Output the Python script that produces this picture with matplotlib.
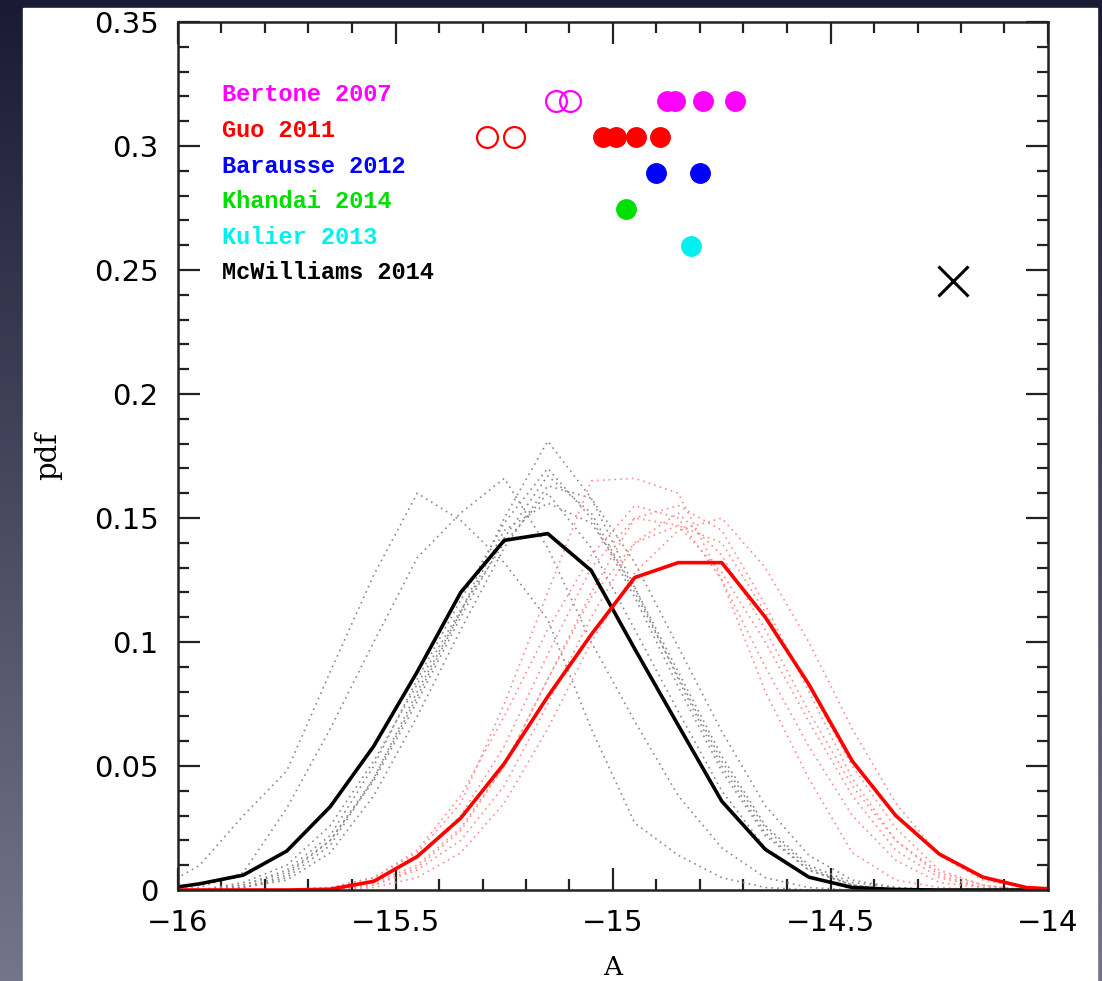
import numpy as np
import matplotlib.pyplot as plt
from matplotlib.patches import Rectangle
from matplotlib.colors import LinearSegmentedColormap
from matplotlib.ticker import MultipleLocator, FuncFormatter

# bin centres of the A histograms
A_bins = [-16.05, -15.95, -15.85, -15.75, -15.65, -15.55, -15.45, -15.35, -15.25, -15.15, -15.05,
          -14.95, -14.85, -14.75, -14.65, -14.55, -14.45, -14.35, -14.25, -14.15, -14.05, -13.95]

pdf_black = [0.0, 0.0025, 0.006, 0.0157, 0.0336, 0.058, 0.088, 0.120, 0.141, 0.1437, 0.1288,
             0.0972, 0.0664, 0.0358, 0.0164, 0.0052, 0.001, 0.0002, 0, 0, 0, 0]
pdf_red = [0, 0, 0, 0, 0.0003, 0.0035, 0.0135, 0.029, 0.051, 0.078, 0.103,
           0.126, 0.132, 0.132, 0.110, 0.083, 0.052, 0.030, 0.0145, 0.0052, 0.001, 0]

# individual runs (dotted)
gray_runs = [
    [0, 0.010, 0.030, 0.048, 0.088, 0.127, 0.160, 0.149, 0.132, 0.109, 0.065, 0.027, 0.014, 0.005, 0.001, 0, 0, 0, 0, 0, 0, 0],
    [0, 0.001, 0.007, 0.033, 0.065, 0.100, 0.134, 0.152, 0.166, 0.138, 0.100, 0.068, 0.038, 0.017, 0.005, 0.001, 0, 0, 0, 0, 0, 0],
    [0, 0, 0.001, 0.005, 0.018, 0.045, 0.080, 0.112, 0.150, 0.181, 0.158, 0.122, 0.085, 0.050, 0.023, 0.008, 0.002, 0, 0, 0, 0, 0],
    [0, 0, 0.002, 0.008, 0.022, 0.050, 0.085, 0.117, 0.148, 0.170, 0.150, 0.118, 0.082, 0.048, 0.022, 0.008, 0.002, 0, 0, 0, 0, 0],
    [0, 0, 0.001, 0.006, 0.020, 0.044, 0.076, 0.110, 0.142, 0.167, 0.152, 0.120, 0.086, 0.052, 0.025, 0.009, 0.002, 0, 0, 0, 0, 0],
    [0, 0, 0.003, 0.010, 0.026, 0.052, 0.083, 0.113, 0.140, 0.160, 0.138, 0.105, 0.072, 0.040, 0.017, 0.005, 0.001, 0, 0, 0, 0, 0],
    [0, 0, 0.002, 0.007, 0.020, 0.045, 0.078, 0.112, 0.145, 0.156, 0.148, 0.122, 0.088, 0.054, 0.026, 0.010, 0.003, 0.001, 0, 0, 0, 0],
    [0, 0, 0.001, 0.004, 0.015, 0.038, 0.070, 0.105, 0.138, 0.163, 0.158, 0.132, 0.098, 0.064, 0.034, 0.014, 0.004, 0.001, 0, 0, 0, 0],
]
red_runs = [
    [0, 0, 0, 0, 0.001, 0.005, 0.015, 0.035, 0.075, 0.120, 0.165, 0.166, 0.160, 0.125, 0.080, 0.045, 0.015, 0.004, 0.001, 0, 0, 0],
    [0, 0, 0, 0, 0, 0.003, 0.010, 0.025, 0.050, 0.085, 0.120, 0.150, 0.155, 0.145, 0.115, 0.080, 0.045, 0.020, 0.006, 0.001, 0, 0],
    [0, 0, 0, 0, 0.001, 0.004, 0.013, 0.030, 0.058, 0.095, 0.130, 0.150, 0.147, 0.128, 0.100, 0.068, 0.038, 0.016, 0.005, 0.001, 0, 0],
    [0, 0, 0, 0, 0, 0.002, 0.008, 0.020, 0.042, 0.075, 0.110, 0.140, 0.147, 0.140, 0.112, 0.082, 0.050, 0.025, 0.008, 0.002, 0, 0],
    [0, 0, 0, 0, 0, 0.001, 0.005, 0.015, 0.035, 0.065, 0.100, 0.128, 0.145, 0.150, 0.130, 0.100, 0.065, 0.035, 0.014, 0.004, 0.001, 0],
    [0, 0, 0, 0, 0, 0.002, 0.009, 0.024, 0.050, 0.085, 0.118, 0.140, 0.152, 0.135, 0.105, 0.072, 0.042, 0.020, 0.007, 0.002, 0, 0],
    [0, 0, 0, 0, 0.001, 0.005, 0.016, 0.038, 0.070, 0.105, 0.135, 0.155, 0.150, 0.125, 0.090, 0.058, 0.030, 0.012, 0.003, 0.001, 0, 0],
]

# model predictions shown as markers
labels = ["Bertone 2007", "Guo 2011", "Barausse 2012", "Khandai 2014", "Kulier 2013", "McWilliams 2014"]
colors = ["#ff00ff", "#ff0000", "#0000ff", "#00e000", "#00f0f0", "black"]
rows_y = [0.318, 0.3036, 0.289, 0.2744, 0.2598, 0.2457]
open_x = [[-15.13, -15.10], [-15.29, -15.228], [], [], [], []]
filled_x = [[-14.876, -14.857, -14.793, -14.72], [-15.023, -14.994, -14.946, -14.892],
            [-14.901, -14.801], [-14.970], [-14.821], []]
cross_x = [-14.218]

fig = plt.figure(figsize=(11.02, 9.81), dpi=100)

# dark slide background with white page
bg = fig.add_axes([0, 0, 1, 1], zorder=-10)
cmap = LinearSegmentedColormap.from_list("bg", ["#74748c", "#1a1a34"])
bg.imshow(np.linspace(0, 1, 256).reshape(-1, 1), extent=[0, 1, 0, 1], aspect="auto",
          cmap=cmap, origin="lower")
bg.add_patch(Rectangle((23 / 1102, 0), (1097 - 23) / 1102, (981 - 8) / 981, color="white"))
bg.set_xlim(0, 1)
bg.set_ylim(0, 1)
bg.axis("off")

ax = fig.add_axes([178 / 1102, 91 / 981, 870 / 1102, 868 / 981])
ax.set_facecolor("none")

for run in gray_runs:
    ax.plot(A_bins, run, color="#8a8a8a", lw=1.2, linestyle=(0, (1, 2.5)))
for run in red_runs:
    ax.plot(A_bins, run, color="#ff8c8c", lw=1.2, linestyle=(0, (1, 2.5)))

ax.plot(A_bins, pdf_black, color="black", lw=2.6)
ax.plot(A_bins, pdf_red, color="#ff0000", lw=2.6)

for i in range(len(labels)):
    if open_x[i]:
        ax.plot(open_x[i], [rows_y[i]] * len(open_x[i]), "o", ms=15, mfc="none",
                mec=colors[i], mew=1.6, ls="none")
    if filled_x[i]:
        ax.plot(filled_x[i], [rows_y[i]] * len(filled_x[i]), "o", ms=14, color=colors[i], ls="none")
    ax.text(0.0506, 0.916 - 0.041 * i, labels[i], transform=ax.transAxes, color=colors[i],
            fontsize=17, family="Liberation Mono", weight="bold", va="center")

ax.plot(cross_x, [rows_y[5]], "x", ms=22, mew=2.2, color="black", ls="none")

ax.set_xlim(-16, -14)
ax.set_ylim(0, 0.35)

ax.xaxis.set_major_locator(MultipleLocator(0.5))
ax.xaxis.set_minor_locator(MultipleLocator(0.1))
ax.yaxis.set_major_locator(MultipleLocator(0.05))
ax.yaxis.set_minor_locator(MultipleLocator(0.01))
fmt = FuncFormatter(lambda v, p: f"{v:g}".replace("-", "\u2212"))
ax.xaxis.set_major_formatter(fmt)
ax.yaxis.set_major_formatter(fmt)

ax.tick_params(which="both", direction="in", top=True, right=True, color="#222222")
ax.tick_params(which="major", length=16, width=1.6, labelsize=21, pad=14)
ax.tick_params(which="minor", length=8, width=1.6)
for sp in ax.spines.values():
    sp.set_linewidth(1.8)
    sp.set_color("#222222")

ax.set_xlabel("A", fontsize=19, family="DejaVu Serif")
ax.set_ylabel("pdf", fontsize=21, family="DejaVu Serif")
ax.xaxis.set_label_coords(0.5, -0.075)
ax.yaxis.set_label_coords(-0.133, 0.5)

plt.savefig("out.png", dpi=100)
